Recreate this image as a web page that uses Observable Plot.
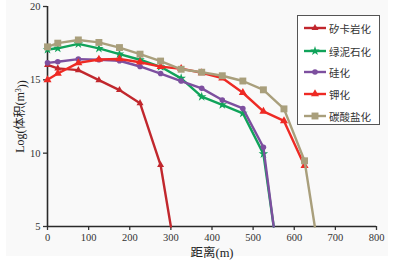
<!DOCTYPE html>
<html>
<head>
<meta charset="utf-8">
<script src="https://cdn.jsdelivr.net/npm/d3@7"></script>
<script src="https://cdn.jsdelivr.net/npm/@observablehq/plot@0.6"></script>
<style>
  html, body { margin: 0; padding: 0; background: #fff; }
  #wrap { position: relative; width: 394px; height: 262px; overflow: hidden; }
  #bg { position: absolute; left: 6px; top: 0; width: 382px; height: 256px; background: #f9f9f9; }
  #chart { position: absolute; left: 0; top: 0; }
  #chart svg [aria-label="x-axis label"] text { font-size: 12.5px; fill: #222; }
  #chart svg [aria-label="y-axis label"] text { font-size: 12px; fill: #222; }
  #legend { position: absolute; left: 297px; top: 15px; width: 83px; height: 110px;
    border: 1.5px solid #555; background: #fff; box-sizing: border-box;
    font-family: "Liberation Serif", "Noto Sans CJK SC", serif; font-size: 10.5px; color: #333; }
  .item { position: absolute; left: 5px; height: 14px; display: flex; align-items: center; }
  .item svg { margin-right: 2px; }
</style>
</head>
<body>
<div id="wrap"><div id="bg"></div><div id="chart"></div><div id="legend"></div></div>
<script>
// Series names, colours and markers
const names   = ["矽卡岩化", "绿泥石化", "硅化", "钾化", "碳酸盐化"];
const colors  = ["#c1272d", "#10a35a", "#7d4f9f", "#ee2a24", "#a99f7c"];
const symbols = ["triangle", "star", "circle", "triangle", "square"];
const sizes   = [2.6, 3.0, 2.8, 3.0, 3.9];

// Distances (m) and Log(volume) values per series
const skarnX     = [0, 25, 75, 125, 175, 225, 275, 300];
const skarnY     = [16.02, 15.78, 15.66, 14.98, 14.3, 13.41, 9.19, 5];
const chloriteX  = [0, 25, 75, 125, 175, 225, 275, 325, 375, 425, 475, 525, 550];
const chloriteY  = [17.07, 17.15, 17.45, 17.14, 16.75, 16.37, 15.89, 15.1, 13.85, 13.3, 12.72, 9.95, 5];
const silicX     = [0, 25, 75, 125, 175, 225, 275, 325, 375, 425, 475, 525, 550];
const silicY     = [16.16, 16.23, 16.41, 16.37, 16.3, 15.91, 15.43, 14.92, 14.42, 13.62, 13.05, 10.4, 5];
const potassicX  = [0, 25, 75, 125, 175, 225, 275, 325, 375, 425, 475, 525, 575, 625];
const potassicY  = [15.0, 15.43, 16.16, 16.39, 16.42, 16.2, 15.9, 15.76, 15.48, 15.12, 14.12, 12.85, 12.2, 9.15];
const carbX      = [0, 25, 75, 125, 175, 225, 275, 325, 375, 425, 475, 525, 575, 625, 650];
const carbY      = [17.25, 17.5, 17.72, 17.55, 17.2, 16.75, 16.28, 15.72, 15.52, 15.28, 14.92, 14.32, 13.02, 9.48, 5];

// Axis ticks
const xTicks = [0, 100, 200, 300, 400, 500, 600, 700, 800];
const yTicks = [5, 10, 15, 20];

const seriesX = [skarnX, chloriteX, silicX, potassicX, carbX];
const seriesY = [skarnY, chloriteY, silicY, potassicY, carbY];

const data = [];
seriesX.forEach((xs, i) => xs.forEach((x, j) => data.push({s: i, name: names[i], x, y: seriesY[i][j]})));

const marks = [];
names.forEach((n, i) => {
  const rows = data.filter(d => d.s === i);
  marks.push(Plot.line(rows, {x: "x", y: "y", stroke: colors[i], strokeWidth: 2.4}));
  marks.push(Plot.dot(rows.filter(d => d.y > 5), {x: "x", y: "y", symbol: () => symbols[i], r: sizes[i], fill: colors[i], stroke: "none"}));
});

const plot = Plot.plot({
  width: 394,
  height: 262,
  marginLeft: 47,
  marginRight: 18,
  marginTop: 6,
  marginBottom: 36,
  style: {background: "transparent", fontFamily: "Liberation Serif, Noto Sans CJK SC, serif", fontSize: "10.5px", color: "#333"},
  x: {domain: [0, 800]},
  y: {domain: [5, 20]},
  marks: [
    Plot.axisX({ticks: xTicks, tickSize: 4, tickPadding: 3, stroke: "#333", strokeWidth: 1.3,
      label: "距离(m)", labelAnchor: "center", labelArrow: "none", labelOffset: 30}),
    Plot.axisY({ticks: yTicks, tickSize: 4, tickPadding: 3, stroke: "#333", strokeWidth: 1.3,
      label: "Log(体积(m3))", labelAnchor: "center", labelArrow: "none", labelOffset: 32}),
    Plot.ruleX([0], {stroke: "#2a2a2a", strokeWidth: 1.6}),
    Plot.ruleY([5], {stroke: "#2a2a2a", strokeWidth: 1.6}),
    ...marks
  ]
});
document.getElementById("chart").appendChild(plot);

// Superscript the "3" of m3 in the y-axis label
const yl = plot.querySelector('[aria-label="y-axis label"] text');
if (yl) {
  const ns = "http://www.w3.org/2000/svg";
  yl.textContent = "";
  const parts = [["Log(体积(m", null], ["3", "sup"], ["))", "after"]];
  parts.forEach(([s, kind]) => {
    const ts = document.createElementNS(ns, "tspan");
    ts.textContent = s;
    if (kind === "sup") { ts.setAttribute("dy", "-0.4em"); ts.setAttribute("font-size", "8px"); }
    if (kind === "after") { ts.setAttribute("dy", "0.4em"); }
    yl.appendChild(ts);
  });
}

// Legend
const legend = document.getElementById("legend");
const tops = [5, 28, 49, 71, 93];
const symMap = {triangle: d3.symbolTriangle, star: d3.symbolStar, circle: d3.symbolCircle, square: d3.symbolSquare};
names.forEach((n, i) => {
  const item = document.createElement("div");
  item.className = "item";
  item.style.top = tops[i] + "px";
  const svg = d3.create("svg").attr("width", 24).attr("height", 14);
  svg.append("line").attr("x1", 1).attr("x2", 23).attr("y1", 7).attr("y2", 7)
    .attr("stroke", colors[i]).attr("stroke-width", 2.4);
  svg.append("path").attr("transform", "translate(12,7)")
    .attr("d", d3.symbol(symMap[symbols[i]], Math.PI * sizes[i] * sizes[i])())
    .attr("fill", colors[i]);
  item.appendChild(svg.node());
  const t = document.createElement("span");
  t.textContent = n;
  item.appendChild(t);
  legend.appendChild(item);
});
</script>
</body>
</html>
